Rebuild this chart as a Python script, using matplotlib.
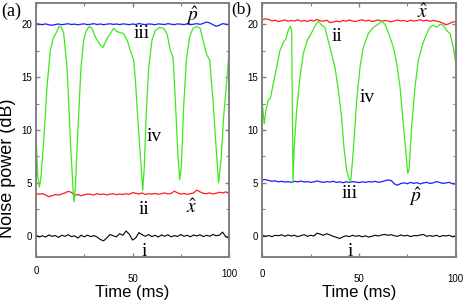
import numpy as np
import matplotlib
matplotlib.use("Agg")
import matplotlib.pyplot as plt
from matplotlib.ticker import MultipleLocator
from matplotlib.transforms import ScaledTranslation

plt.rcParams['font.family'] = ['Liberation Sans', 'DejaVu Sans']
plt.rcParams['mathtext.fontset'] = 'stix'

# ---- panel (a) data ----
green_a_t = [0, 0.9, 1.7, 2.6, 4, 5.7, 7.4, 8.8, 10.5, 11.9, 13.1, 14.3, 16.1, 17.8, 19.2, 19.7,
             20.4, 21.8, 23.3, 24.7, 26.1, 27.6, 29, 30.7, 33, 34.7, 36.4, 38.5, 40.2, 41.9,
             43.7, 45.4, 47.2, 48.9, 50.6, 51.5, 52.7, 54.1, 55.3, 56.1, 57.2, 58.4, 60.1,
             61.8, 64.1, 66.1, 67.9, 69.6, 71, 72.2, 73.4, 74.4, 75.3, 76.5, 77.9, 79.6,
             81.3, 83.4, 85.1, 86.5, 88.3, 90, 91.7, 93.4, 94.6, 95.9, 97.2, 99, 100]
green_a = [9.7, 5.6, 4.6, 5.6, 9, 14.1, 17.5, 18.6, 19.2, 19.8, 19.7, 19.2, 15.9, 9, 4.3, 3.2,
           4.6, 10.3, 15.9, 18.5, 19.4, 19.8, 19.6, 18.8, 18.1, 17.8, 18.5, 19.1, 19.6, 19.3,
           19.2, 19.1, 18.5, 17.5, 16.6, 14.7, 11.2, 7.5, 4.3, 6.5, 11.9, 15.9, 18.5,
           19.4, 19.7, 19.6, 19.1, 17.5, 16.9, 12.8, 8.1, 5.3, 6.5, 12.2, 16.6, 18.8,
           19.6, 19.8, 19.6, 18.5, 17.2, 16.6, 12.8, 8.1, 5.0, 7.2, 11.2, 15.0, 17.4]

blue_a = [20.05, 20.0, 19.96, 20.03, 19.94, 19.9, 19.97, 20.02, 19.95, 20.0, 20.04, 19.97,
          20.01, 19.94, 20.0, 20.03, 19.96, 20.0, 20.05, 19.97, 20.02, 19.95, 20.0, 20.04,
          19.98, 20.02, 19.96, 20.03, 20.0, 19.95, 20.02, 19.97, 20.06, 20.0, 19.96, 20.02,
          20.0, 19.95, 20.03, 20.0, 19.97, 20.05, 20.0, 19.96, 20.03, 20.0, 19.97, 20.02,
          19.96, 20.0, 20.05, 19.98, 20.08, 20.2, 20.12, 19.95, 19.8, 19.9, 20.05, 20.0, 19.95]
red_a = [3.97, 3.93, 3.98, 3.85, 3.7, 3.78, 3.9, 3.85, 3.95, 4.05, 4.2, 4.1, 3.82, 3.9, 3.78,
         3.88, 3.95, 3.92, 3.85, 3.98, 3.9, 3.95, 3.86, 3.93, 3.98, 3.88, 3.95, 3.9, 3.98,
         3.92, 4.08, 4.02, 3.95, 4.05, 3.9, 3.98, 3.93, 4.0, 3.92, 3.98, 4.05, 3.95, 4.0,
         4.22, 4.05, 3.95, 4.0, 3.92, 3.98, 4.05, 4.32, 4.15, 4.02, 3.98, 4.05, 3.95, 4.02,
         4.12, 4.05, 4.15, 4.0]
black_a = [0.05, -0.1, 0.0, -0.12, 0.08, -0.05, 0.02, -0.15, 0.05, -0.05, 0.1, -0.08, 0.0,
           -0.22, 0.05, -0.1, 0.06, -0.08, 0.02, -0.12, -0.35, -0.48, -0.2, 0.12, 0.0, -0.1,
           0.2, 0.05, 0.45, 0.15, -0.4, -0.2, 0.3, 0.1, -0.05, 0.12, -0.08, 0.05, -0.12, 0.08,
           -0.05, 0.1, -0.1, 0.02, -0.06, 0.12, -0.05, 0.05, -0.1, 0.08, -0.02, 0.1, -0.08,
           0.05, -0.05, 0.12, 0.0, 0.05, 0.35, -0.1, -0.2]

# ---- panel (b) data ----
green_b_t = [0, 1, 1.9, 3.1, 4.3, 5.7, 7.4, 9.1, 10.9, 12.2, 13.4, 14.5, 15.2, 15.5, 15.9,
             16.4, 17.8, 19.5, 21.2, 23.3, 25.5, 27.8, 29, 30.7, 32.4, 33.6, 35, 37.6, 39.3,
             41, 42.2, 43.6, 44.8, 45.7, 47.1, 48.8, 50.5, 52.2, 54.8, 57.4, 60, 61.7, 63.4,
             65.2, 67.8, 69.5, 71.2, 72.9, 74.3, 75.2, 75.9, 77.2, 79, 80.7, 82.9, 85, 86.7,
             88.4, 90.2, 91.9, 93.6, 95.3, 97.1, 98.8, 100]
green_b = [12.5, 10.6, 11.9, 12.8, 13.1, 14.4, 15.9, 17.5, 18.3, 18.6, 19.4, 19.8, 19.4, 12.8,
           5.0, 8.1, 11.9, 15.0, 17.2, 18.5, 19.2, 20.0, 20.3, 19.9, 19.7, 18.8, 17.8, 15.9,
           13.8, 11.2, 8.4, 6.2, 5.4, 5.1, 8.1, 12.8, 15.9, 17.8, 19.1, 19.7, 20.0, 20.3,
           20.0, 19.2, 17.8, 16.3, 14.1, 10.6, 7.8, 5.9, 6.2, 10.3, 14.1, 16.6, 18.1, 19.1,
           19.7, 19.9, 19.7, 20.0, 19.9, 19.4, 19.1, 17.8, 16.4]

red_b = [20.42, 20.5, 20.45, 20.3, 20.38, 20.25, 20.32, 20.4, 20.28, 20.35, 20.3, 20.42,
         20.28, 20.35, 20.25, 20.38, 20.3, 20.45, 20.32, 20.28, 20.38, 20.15, 20.2, 20.3,
         20.22, 20.35, 20.28, 20.4, 20.3, 20.25, 20.35, 20.42, 20.3, 20.38, 20.25, 20.32,
         20.4, 20.28, 20.35, 20.3, 20.22, 20.32, 20.4, 20.3, 20.35, 20.25, 20.38, 20.3,
         20.35, 20.42, 20.3, 20.38, 20.28, 20.35, 20.3, 20.22, 20.1, 19.95, 20.05, 20.2, 20.25]
blue_b = [5.28, 5.32, 5.22, 5.15, 5.2, 5.1, 5.15, 5.08, 5.12, 5.05, 5.15, 5.1, 5.18, 5.08,
          5.12, 5.05, 5.1, 5.18, 5.1, 5.05, 5.12, 5.08, 5.15, 5.05, 5.1, 5.02, 5.1, 5.05,
          5.12, 5.08, 5.03, 5.1, 5.05, 5.12, 5.08, 5.15, 5.05, 5.1, 5.2, 5.28, 5.22, 4.9,
          4.78, 4.95, 5.0, 4.92, 5.05, 4.95, 5.02, 4.9, 5.0, 5.05, 4.95, 5.0, 5.12, 5.05,
          4.95, 5.0, 5.05, 4.92, 4.88]
black_b = [0.05, -0.05, 0.02, -0.08, 0.05, 0.0, 0.1, -0.05, 0.08, -0.02, 0.05, -0.08, 0.02,
           0.1, -0.05, 0.05, -0.02, 0.25, 0.15, 0.05, 0.2, 0.08, -0.05, -0.15, -0.25, -0.1,
           0.0, -0.08, 0.05, -0.05, 0.02, -0.1, 0.0, -0.12, -0.05, 0.05, -0.02, 0.08, 0.12,
           0.05, 0.1, 0.0, -0.05, 0.08, -0.02, 0.05, -0.08, 0.02, 0.0, 0.08, 0.12, -0.05,
           0.02, -0.05, 0.05, -0.08, 0.02, -0.02, 0.05, -0.1, 0.0]

x_ticks = [0, 50, 100]
y_ticks = [0, 5, 10, 15, 20]

GREEN = '#3ee81a'
BLUE = '#1c1cff'
RED = '#ff1c1c'
SPINE = '#808080'
SERIF = ['Liberation Serif', 'DejaVu Serif']


def t_of(vals):
    return np.linspace(0, 100, len(vals))


def setup(ax):
    ax.set_xlim(0, 100)
    ax.set_ylim(-2, 22)
    ax.set_xticks(x_ticks)
    ax.set_yticks(y_ticks)
    ax.xaxis.set_minor_locator(MultipleLocator(25))
    ax.yaxis.set_minor_locator(MultipleLocator(2.5))
    ax.tick_params(which='both', direction='in', top=True, right=True,
                   color=SPINE, labelsize=7)
    ax.tick_params(axis='y', pad=3)
    ax.tick_params(axis='x', pad=0)
    ax.tick_params(which='major', length=3, width=1)
    ax.tick_params(which='minor', length=2, width=0.8)
    for s in ax.spines.values():
        s.set_color(SPINE)
        s.set_linewidth(1.4)
    ax.set_xlabel('Time (ms)', fontsize=12)
    ax.xaxis.set_label_coords(0.5, -0.112)


def stagger(ax, drops):
    # tick labels in the original sit at slightly different heights
    for tick, d in zip(ax.xaxis.get_major_ticks(), drops):
        tick.label1.set_transform(tick.label1.get_transform() +
                                  ScaledTranslation(0, -d / 100, fig.dpi_scale_trans))


fig = plt.figure(figsize=(4.63, 3.03), dpi=100)
ax1 = fig.add_axes([0.0778, 0.152, 0.4168, 0.838])
ax2 = fig.add_axes([0.5665, 0.152, 0.4177, 0.838])

# panel (a)
ax1.plot(t_of(black_a), black_a, color='black', lw=0.8)
ax1.plot(t_of(red_a), red_a, color=RED, lw=0.9)
ax1.plot(t_of(blue_a), blue_a, color=BLUE, lw=0.9)
ax1.plot(green_a_t, green_a, color=GREEN, lw=0.9)
setup(ax1)
ax1.set_ylabel('Noise power (dB)', fontsize=13)
ax1.yaxis.set_label_coords(-0.105, 0.35)
for s, x, y in [('iii', 55, 19.1), ('iv', 61, 9.4), ('ii', 56, 2.45), ('i', 56, -1.5)]:
    ax1.text(x, y, s, fontsize=14, family=SERIF, ha='center', va='center')
ax1.text(81.3, 20.8, r'$\hat{p}$', fontsize=14, ha='center', va='center')
ax1.text(80.5, 2.7, r'$\hat{x}$', fontsize=14, ha='center', va='center')

# panel (b)
ax2.plot(t_of(black_b), black_b, color='black', lw=0.8)
ax2.plot(t_of(blue_b), blue_b, color=BLUE, lw=0.9)
ax2.plot(t_of(red_b), red_b, color=RED, lw=0.9)
ax2.plot(green_b_t, green_b, color=GREEN, lw=0.9)
setup(ax2)
for s, x, y in [('ii', 38.4, 18.8), ('iv', 54, 13.1), ('iii', 45.3, 4.0), ('i', 45.3, -1.5)]:
    ax2.text(x, y, s, fontsize=14, family=SERIF, ha='center', va='center')
ax2.text(83, 21.1, r'$\hat{x}$', fontsize=14, ha='center', va='center')
ax2.text(79, 3.7, r'$\hat{p}$', fontsize=14, ha='center', va='center')

fig.text(0.003, 0.99, '(a)', fontsize=13, family=SERIF, ha='left', va='top')
fig.text(0.499, 0.995, '(b)', fontsize=12.5, family=SERIF, ha='left', va='top')

fig.canvas.draw()
stagger(ax1, [9, 17, 12])
stagger(ax2, [12, 17, 17])

fig.savefig('out.png', dpi=100)
